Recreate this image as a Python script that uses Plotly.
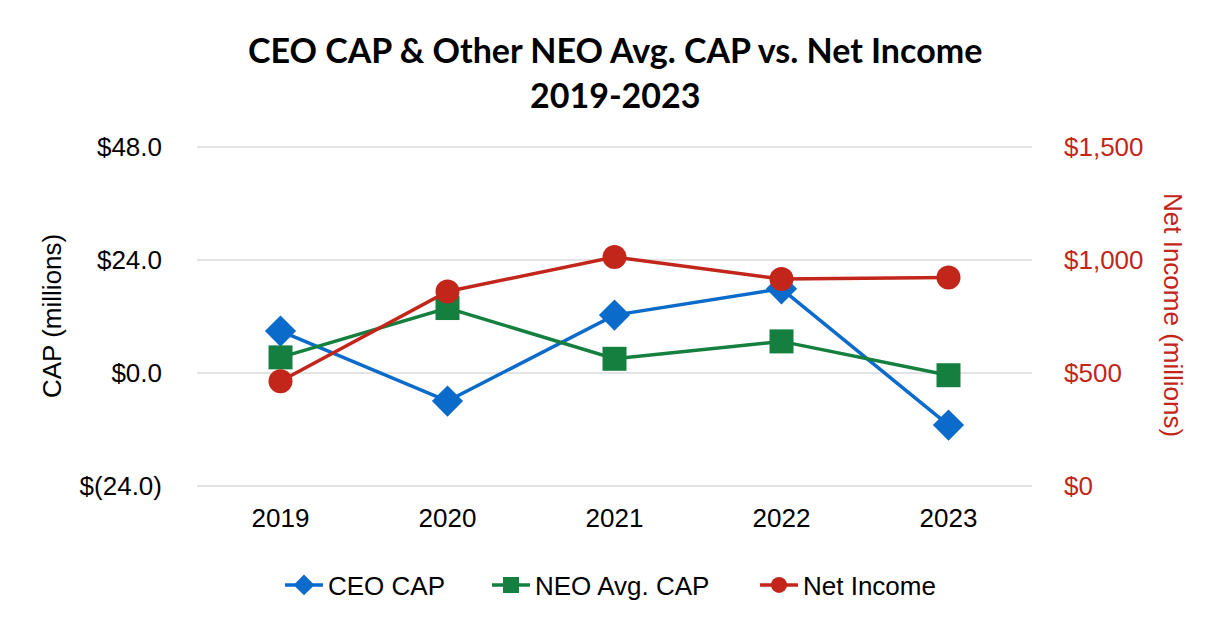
import plotly.graph_objects as go

years = ["2019", "2020", "2021", "2022", "2023"]
ceo_cap = [8.9, -6.0, 12.3, 17.9, -11.1]
neo_avg_cap = [3.3, 13.8, 3.0, 6.7, -0.5]
net_income = [463, 861, 1014, 916, 923]

left_tickvals = [-24, 0, 24, 48]
left_ticktext = ["$(24.0)", "$0.0", "$24.0", "$48.0"]
right_tickvals = [0, 500, 1000, 1500]
right_ticktext = ["$0", "$500", "$1,000", "$1,500"]

BLUE = "#0B6BCB"
GREEN = "#147F3F"
RED = "#C2261B"
AX_FONT = "Liberation Sans, Arial, sans-serif"
FS = 26

ML, MR, MT, MB = 197, 194, 145, 152
W, H = 1226, 640
pw = W - ML - MR
ph = H - MT - MB

pad = 0.5
left_range = [-24 - pad, 48 + pad]
right_range = [(v + 24) * 500 / 24 for v in left_range]

fig = go.Figure()
fig.add_trace(go.Scatter(
    x=years, y=ceo_cap, name="CEO CAP", mode="lines+markers",
    line=dict(color=BLUE, width=3.5),
    marker=dict(symbol="diamond", size=24, color=BLUE),
    legend="legend",
))
fig.add_trace(go.Scatter(
    x=years, y=neo_avg_cap, name="NEO Avg. CAP", mode="lines+markers",
    line=dict(color=GREEN, width=3.5),
    marker=dict(symbol="square", size=24, color=GREEN),
    legend="legend2",
))
fig.add_trace(go.Scatter(
    x=years, y=net_income, name="Net Income", mode="lines+markers",
    line=dict(color=RED, width=3.5),
    marker=dict(symbol="circle", size=24, color=RED),
    yaxis="y2",
    legend="legend3",
))


def px_x(px):
    return (px - ML) / pw


def px_y(py):
    return (H - MB - py) / ph


def leg(xpx):
    return dict(orientation="h", x=px_x(xpx), xanchor="left", y=px_y(585), yanchor="middle",
                font=dict(family=AX_FONT, size=FS, color="black"),
                itemwidth=38,
                bgcolor="rgba(0,0,0,0)", borderwidth=0)


fig.update_layout(
    width=W, height=H,
    paper_bgcolor="white", plot_bgcolor="white",
    margin=dict(l=ML, r=MR, t=MT, b=MB),
    showlegend=True,
    legend=leg(280),
    legend2=leg(487),
    legend3=leg(755),
    xaxis=dict(
        type="category", range=[-0.5, 4.5], showgrid=False, zeroline=False,
        showline=False, ticks="", tickfont=dict(family=AX_FONT, size=FS, color="black"),
        ticklabelstandoff=12,
    ),
    yaxis=dict(
        range=left_range, tickvals=left_tickvals, ticktext=left_ticktext,
        showgrid=True, gridcolor="#E3E3E3", gridwidth=1.5, zeroline=False,
        showline=False, ticks="", tickfont=dict(family=AX_FONT, size=FS, color="black"),
        ticklabelstandoff=34,
    ),
    yaxis2=dict(
        range=right_range, tickvals=right_tickvals, ticktext=right_ticktext,
        overlaying="y", side="right", showgrid=False, zeroline=False,
        showline=False, ticks="", tickfont=dict(family=AX_FONT, size=FS, color=RED),
        ticklabelstandoff=31,
    ),
    annotations=[
        dict(text="<b>CEO CAP & Other NEO Avg. CAP vs. Net Income</b>", x=0.5, y=px_y(49),
             xref="paper", yref="paper", showarrow=False, xanchor="center", yanchor="middle",
             font=dict(family="Lato, sans-serif", size=34, color="black")),
        dict(text="<b>2019-2023</b>", x=0.5, y=px_y(94),
             xref="paper", yref="paper", showarrow=False, xanchor="center", yanchor="middle",
             font=dict(family="Lato, sans-serif", size=34, color="black")),
        dict(text="CAP (millions)", x=px_x(52), y=px_y(316), textangle=-90,
             xref="paper", yref="paper", showarrow=False, xanchor="center", yanchor="middle",
             font=dict(family=AX_FONT, size=FS, color="black")),
        dict(text="Net Income (millions)", x=px_x(1173), y=px_y(315), textangle=90,
             xref="paper", yref="paper", showarrow=False, xanchor="center", yanchor="middle",
             font=dict(family=AX_FONT, size=FS, color=RED)),
    ],
)

fig.write_html("out.html", config={"displayModeBar": False},
               post_script="document.body.style.margin='0';")
